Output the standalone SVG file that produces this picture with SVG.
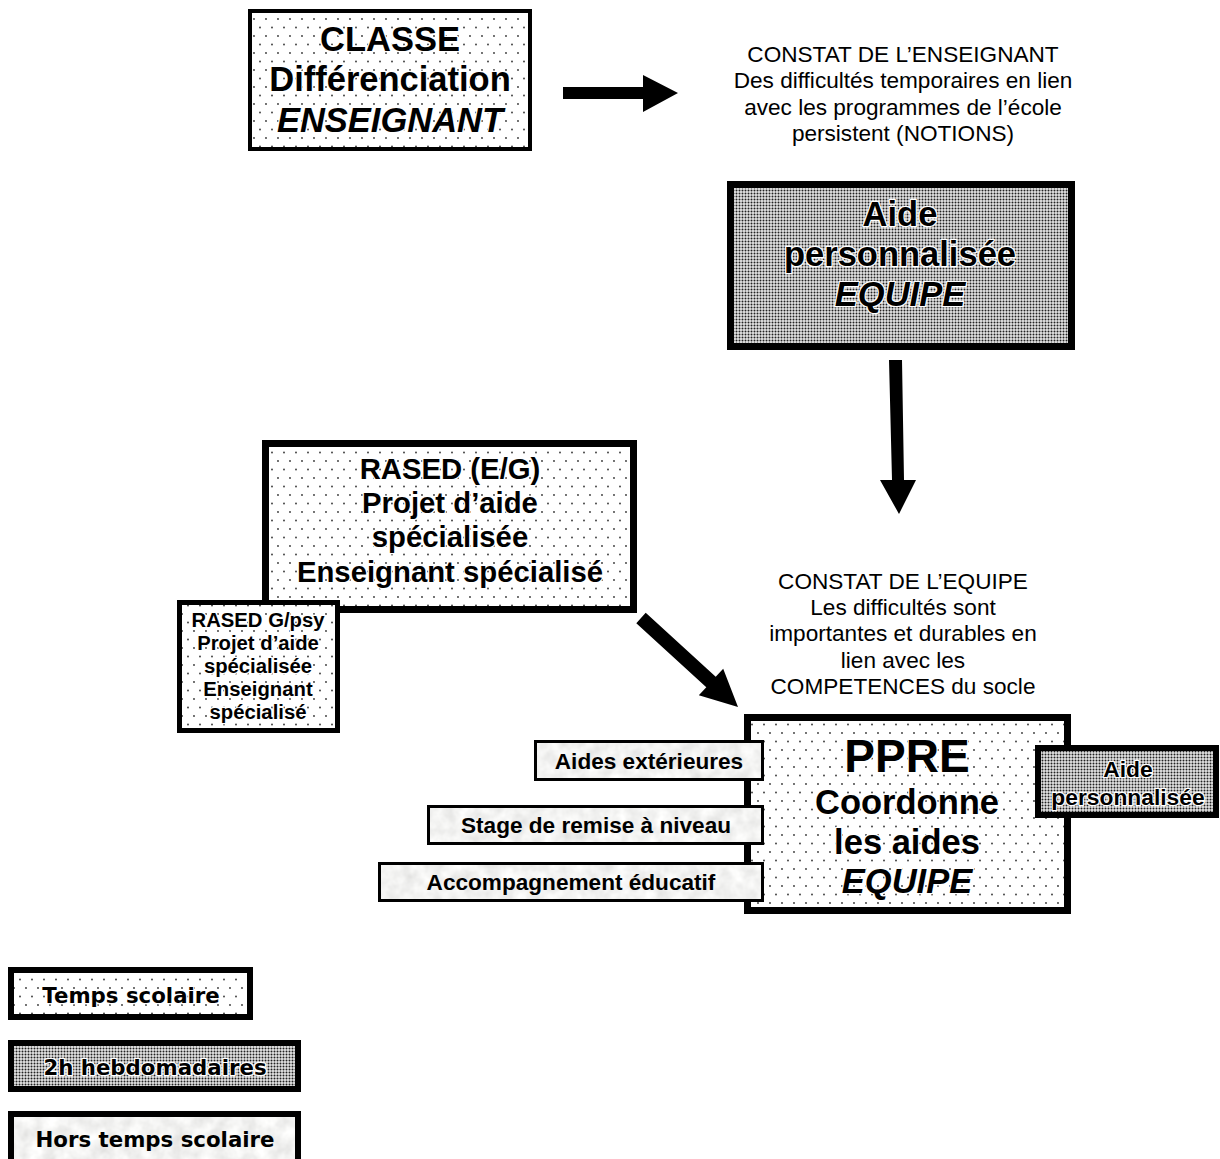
<svg xmlns="http://www.w3.org/2000/svg" width="1220" height="1159" viewBox="0 0 1220 1159">
<style>
.bx{stroke:#000;fill:none}
.dot{fill:url(#dots)}
.dense{fill:url(#dense)}
.t{font-family:"Liberation Sans",Arial,sans-serif;font-weight:bold;fill:#000;text-anchor:middle}
.it{font-style:italic}
.halo{paint-order:stroke;stroke:#fff;stroke-width:2.5;stroke-linejoin:round}
.c{font-family:"Liberation Sans",Arial,sans-serif;font-size:22.6px;fill:#000;text-anchor:middle}
.lg{font-family:"DejaVu Sans",Verdana,sans-serif;font-weight:bold;font-size:21.3px;fill:#000;text-anchor:middle}
.arrow{fill:#000}
</style>
<defs>
<pattern id="dots" patternUnits="userSpaceOnUse" width="12" height="17">
<rect width="12" height="17" fill="#fff"/>
<circle cx="2" cy="2" r="0.9" fill="#333"/>
<circle cx="8" cy="10.5" r="0.9" fill="#333"/>
</pattern>
<pattern id="dense" patternUnits="userSpaceOnUse" width="3" height="3">
<rect width="3" height="3" fill="#e6e6e6"/>
<circle cx="1.5" cy="1.5" r="1" fill="#222"/>
</pattern>
<filter id="marble" x="0" y="0" width="1" height="1">
<feTurbulence type="fractalNoise" baseFrequency="0.07" numOctaves="3" seed="4"/>
<feColorMatrix type="matrix" values="0.35 0 0 0 0.72  0.35 0 0 0 0.72  0.35 0 0 0 0.71  0 0 0 0 1"/>
<feComposite in2="SourceGraphic" operator="in"/>
</filter>
</defs>

<g id="connectors">
<polygon class="arrow" points="563,87 643,87 643,75 678,93 643,112 643,99 563,99"/>
<polygon class="arrow" points="889,360 902,360 904,480 916,480 899,514 880,480 892,480"/>
<polygon class="arrow" points="645.7,612.8 715.7,676.8 723.2,668.7 738,707 698.8,695.3 706.3,687.2 636.3,623.2"/>
</g>

<g id="classe">
<rect x="250" y="11" width="280" height="138" class="dot"/>
<rect x="250" y="11" width="280" height="138" class="bx" stroke-width="4"/>
<text class="t halo" font-size="34.5" x="390" y="51">CLASSE</text>
<text class="t halo" font-size="34.5" x="390" y="91">Différenciation</text>
<text class="t it halo" font-size="34.5" x="390" y="132">ENSEIGNANT</text>
</g>

<g id="constat-enseignant">
<text class="c" x="903" y="62">CONSTAT DE L’ENSEIGNANT</text>
<text class="c" x="903" y="88">Des difficultés temporaires en lien</text>
<text class="c" x="903" y="115">avec les programmes de l’école</text>
<text class="c" x="903" y="141">persistent (NOTIONS)</text>
</g>

<g id="aide-perso-equipe">
<rect x="730.5" y="184.5" width="341" height="162" class="dense"/>
<rect x="730.5" y="184.5" width="341" height="162" class="bx" stroke-width="7"/>
<text class="t halo" font-size="34.5" x="900" y="226">Aide</text>
<text class="t halo" font-size="34.5" x="900" y="266">personnalisée</text>
<text class="t it halo" font-size="34.5" x="900" y="306">EQUIPE</text>
</g>

<g id="rased-eg">
<rect x="265.5" y="443.5" width="368" height="166" class="dot"/>
<rect x="265.5" y="443.5" width="368" height="166" class="bx" stroke-width="7"/>
<text class="t halo" font-size="29.3" x="450" y="479">RASED (E/G)</text>
<text class="t halo" font-size="29.3" x="450" y="513">Projet d’aide</text>
<text class="t halo" font-size="29.3" x="450" y="547">spécialisée</text>
<text class="t halo" font-size="29.3" x="450" y="582">Enseignant spécialisé</text>
</g>

<g id="rased-gpsy">
<rect x="179.5" y="602.5" width="158" height="128" class="dot"/>
<rect x="179.5" y="602.5" width="158" height="128" class="bx" stroke-width="5"/>
<text class="t halo" font-size="20.3" x="258" y="627">RASED G/psy</text>
<text class="t halo" font-size="20.3" x="258" y="650">Projet d’aide</text>
<text class="t halo" font-size="20.3" x="258" y="673">spécialisée</text>
<text class="t halo" font-size="20.3" x="258" y="696">Enseignant</text>
<text class="t halo" font-size="20.3" x="258" y="719">spécialisé</text>
</g>

<g id="constat-equipe">
<text class="c" x="903" y="589">CONSTAT DE L’EQUIPE</text>
<text class="c" x="903" y="615">Les difficultés sont</text>
<text class="c" x="903" y="641">importantes et durables en</text>
<text class="c" x="903" y="668">lien avec les</text>
<text class="c" x="903" y="694">COMPETENCES du socle</text>
</g>

<g id="ppre">
<rect x="747.5" y="717.5" width="320" height="193" class="dot"/>
<rect x="747.5" y="717.5" width="320" height="193" class="bx" stroke-width="7"/>
<text class="t halo" font-size="46" x="907" y="772">PPRE</text>
<text class="t halo" font-size="34.5" x="907" y="814">Coordonne</text>
<text class="t halo" font-size="34.5" x="907" y="854">les aides</text>
<text class="t it halo" font-size="34.5" x="907" y="893">EQUIPE</text>
</g>

<g id="aides-exterieures">
<rect x="535.5" y="741.5" width="227" height="38" fill="#fff" filter="url(#marble)"/>
<rect x="535.5" y="741.5" width="227" height="38" class="bx" stroke-width="3"/>
<text class="t" font-size="22.6" x="649" y="769">Aides extérieures</text>
</g>

<g id="stage-remise-niveau">
<rect x="428.5" y="806.5" width="334" height="37" fill="#fff" filter="url(#marble)"/>
<rect x="428.5" y="806.5" width="334" height="37" class="bx" stroke-width="3"/>
<text class="t" font-size="22.6" x="596" y="833">Stage de remise à niveau</text>
</g>

<g id="accompagnement-educatif">
<rect x="379.5" y="863.5" width="383" height="37" fill="#fff" filter="url(#marble)"/>
<rect x="379.5" y="863.5" width="383" height="37" class="bx" stroke-width="3"/>
<text class="t" font-size="22.6" x="571" y="890">Accompagnement éducatif</text>
</g>

<g id="aide-perso-small">
<rect x="1038" y="748" width="178" height="67" class="dense"/>
<rect x="1038" y="748" width="178" height="67" class="bx" stroke-width="6"/>
<text class="t halo" font-size="22.8" x="1128" y="777">Aide</text>
<text class="t halo" font-size="22.8" x="1128" y="805">personnalisée</text>
</g>

<g id="legend-temps-scolaire">
<rect x="11" y="970" width="239" height="47" class="dot"/>
<rect x="11" y="970" width="239" height="47" class="bx" stroke-width="6"/>
<text class="lg halo" x="131" y="1003">Temps scolaire</text>
</g>

<g id="legend-2h">
<rect x="11" y="1043" width="287" height="46" class="dense"/>
<rect x="11" y="1043" width="287" height="46" class="bx" stroke-width="6"/>
<text class="lg halo" x="155" y="1075">2h hebdomadaires</text>
</g>

<g id="legend-hors-temps">
<rect x="11" y="1114" width="287" height="60" fill="#fff" filter="url(#marble)"/>
<rect x="11" y="1114" width="287" height="60" class="bx" stroke-width="6"/>
<text class="lg" x="155" y="1147">Hors temps scolaire</text>
</g>
</svg>
